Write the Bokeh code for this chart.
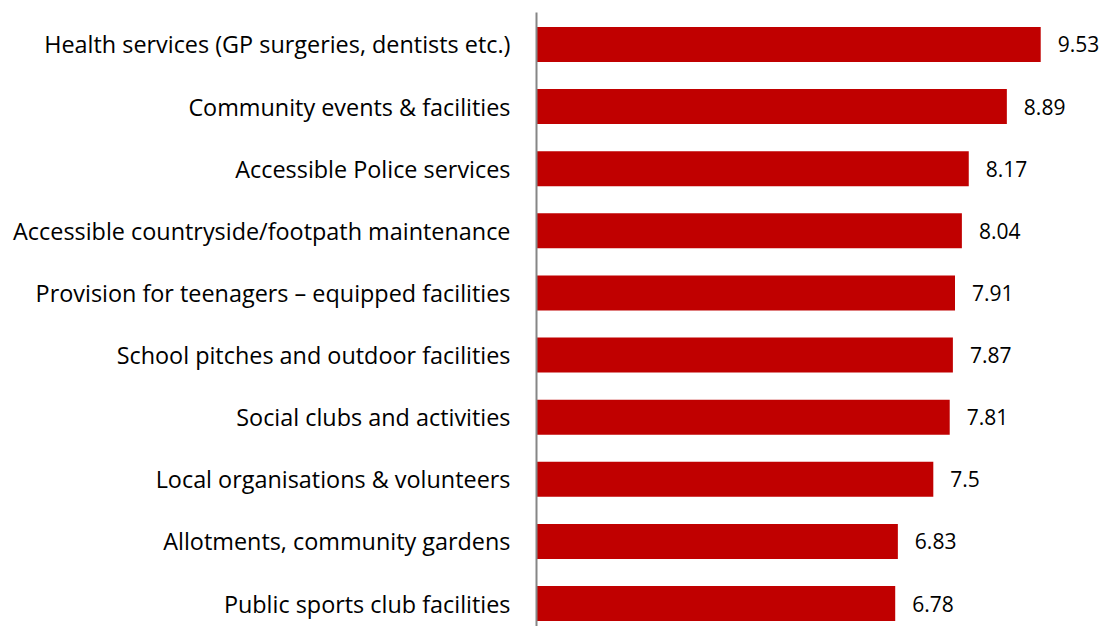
from bokeh.plotting import figure
from bokeh.models import Range1d, FixedTicker, ColumnDataSource
from bokeh.embed import file_html
from bokeh.resources import INLINE
from bokeh.core.properties import value

categories = [
    "Health services (GP surgeries, dentists etc.)",
    "Community events & facilities",
    "Accessible Police services",
    "Accessible countryside/footpath maintenance",
    "Provision for teenagers \u2013 equipped facilities",
    "School pitches and outdoor facilities",
    "Social clubs and activities",
    "Local organisations & volunteers",
    "Allotments, community gardens",
    "Public sports club facilities",
]
scores = [9.53, 8.89, 8.17, 8.04, 7.91, 7.87, 7.81, 7.5, 6.83, 6.78]
score_labels = ["9.53", "8.89", "8.17", "8.04", "7.91", "7.87", "7.81", "7.5", "6.83", "6.78"]

FONT = "Open Sans"
positions = list(range(len(categories)))

src = ColumnDataSource(dict(y=positions, x=scores, lab=score_labels))

p = figure(
    width=1100, height=626,
    output_backend="svg", toolbar_location=None,
    x_range=Range1d(0, 10.66),
    y_range=Range1d(start=9.37, end=-0.515),
    min_border_left=536, min_border_right=0, min_border_top=12, min_border_bottom=0,
)
p.hbar(y="y", right="x", left=0, height=0.563, source=src,
       fill_color="#C00000", line_color=None)
p.text(x="x", y="y", text="lab", source=src, x_offset=17,
       text_baseline="middle", text_align="left",
       text_font=value(FONT), text_font_size="21px", text_color="#000000")

p.xaxis.visible = False
p.xgrid.visible = False
p.ygrid.visible = False
p.outline_line_color = None

ya = p.yaxis[0]
ya.ticker = FixedTicker(ticks=positions)
ya.major_label_overrides = {i: c for i, c in enumerate(categories)}
ya.major_tick_line_color = None
ya.minor_tick_line_color = None
ya.major_tick_out = 0
ya.major_tick_in = 0
ya.axis_line_color = "#868686"
ya.axis_line_width = 2
ya.major_label_standoff = 26
ya.major_label_text_font = FONT
ya.major_label_text_font_size = "23.4px"
ya.major_label_text_color = "#000000"

open("out.html", "w").write(file_html(p, INLINE))
